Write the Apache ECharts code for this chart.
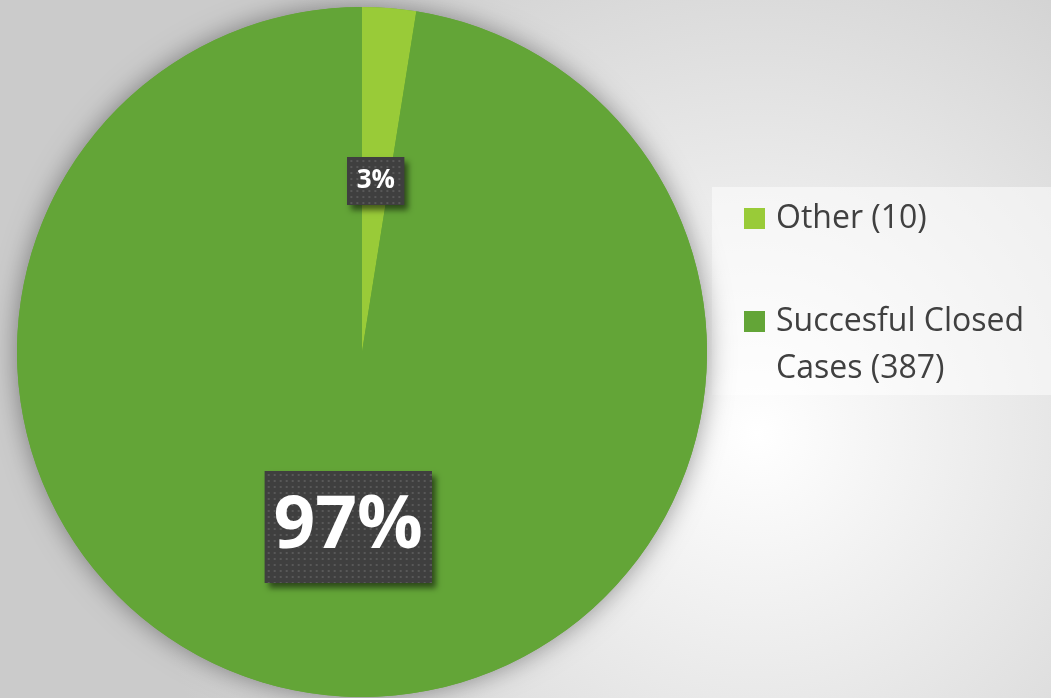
<!DOCTYPE html>
<html>
<head>
<meta charset="utf-8">
<script src="https://cdn.jsdelivr.net/npm/echarts@6/dist/echarts.min.js"></script>
<style>
html,body{margin:0;padding:0;background:#d8d8d8;}
#chart{width:1051px;height:698px;}
</style>
</head>
<body>
<div id="chart"></div>
<script>
// ---- data ----
const categories = ['Other', 'Succesful Closed\nCases'];
const values = [10, 387];
const colors = ['#99CB38', '#63A537'];

// ---- styles ----
function dotPattern(w, h) {
  const c = document.createElement('canvas');
  c.width = w; c.height = h;
  const g = c.getContext('2d');
  g.fillStyle = '#3f3f3f';
  g.fillRect(0, 0, w, h);
  g.fillStyle = '#585858';
  for (let y = 3; y < h; y += 6) {
    for (let x = 3; x < w; x += 6) g.fillRect(x, y, 2, 2);
  }
  return c;
}
function boxLabel(fontSize, w, h, offset) {
  return {
    offset: offset,
    backgroundColor: '#3f3f3f',
    padding: 0,
    shadowColor: 'rgba(0,0,0,0.55)',
    shadowBlur: 6,
    shadowOffsetX: 4,
    shadowOffsetY: 5,
    rich: {
      p: {
        fontFamily: 'Open Sans',
        fontWeight: 'bold',
        color: '#ffffff',
        fontSize: fontSize,
        width: w,
        height: h,
        lineHeight: h,
        align: 'center',
        padding: 0,
        backgroundColor: { image: dotPattern(w, h) }
      }
    }
  };
}
const labelStyles = [
  boxLabel(26, 57, 48, [0, 4]),
  boxLabel(73, 167, 112, [0, 0])
];

const chart = echarts.init(document.getElementById('chart'), null, { renderer: 'canvas' });
const option = {
  animation: false,
  graphic: [
    {
      type: 'rect', z: -10, silent: true,
      shape: { x: 0, y: 0, width: 1051, height: 698 },
      style: {
        fill: {
          type: 'radial', x: 0.72, y: 0.62, r: 0.9,
          colorStops: [{ offset: 0, color: '#ffffff' }, { offset: 1, color: '#cbcbcb' }]
        }
      }
    },
    {
      type: 'rect', z: -5, silent: true,
      shape: { x: 712, y: 187, width: 339, height: 208 },
      style: { fill: 'rgba(255,255,255,0.5)' }
    }
  ],
  legend: {
    orient: 'vertical',
    left: 744,
    top: 195,
    padding: 0,
    itemGap: 9,
    itemWidth: 21,
    itemHeight: 21,
    icon: 'rect',
    selectedMode: false,
    data: categories,
    formatter: function (name) {
      const i = categories.indexOf(name);
      const txt = name + ' (' + values[i] + ')';
      // keep icon aligned with the first line of a wrapped label
      return txt.indexOf('\n') >= 0 ? '\n' + txt : txt;
    },
    textStyle: {
      fontFamily: 'Open Sans',
      fontSize: 32,
      lineHeight: 47,
      color: '#404040',
      padding: [0, 0, 0, 6]
    }
  },
  series: [
    {
      type: 'pie',
      silent: true,
      center: [362, 352],
      radius: [0, 345],
      z: 1,
      label: { show: false },
      labelLine: { show: false },
      emphasis: { disabled: true },
      itemStyle: { color: colors[1], shadowBlur: 26, shadowColor: 'rgba(0,0,0,0.4)' },
      data: [{ name: '__shadow', value: 1 }]
    },
    {
      type: 'pie',
      center: [362, 352],
      radius: [0, 345],
      z: 2,
      startAngle: 90,
      clockwise: true,
      percentPrecision: 0,
      emphasis: { disabled: true },
      labelLine: { show: false },
      label: {
        show: true,
        position: 'inside',
        formatter: '{p|{d}%}'
      },
      data: categories.map((n, i) => ({
        name: n,
        value: values[i],
        itemStyle: { color: colors[i] },
        label: labelStyles[i]
      }))
    }
  ]
};
chart.setOption(option);
</script>
</body>
</html>
